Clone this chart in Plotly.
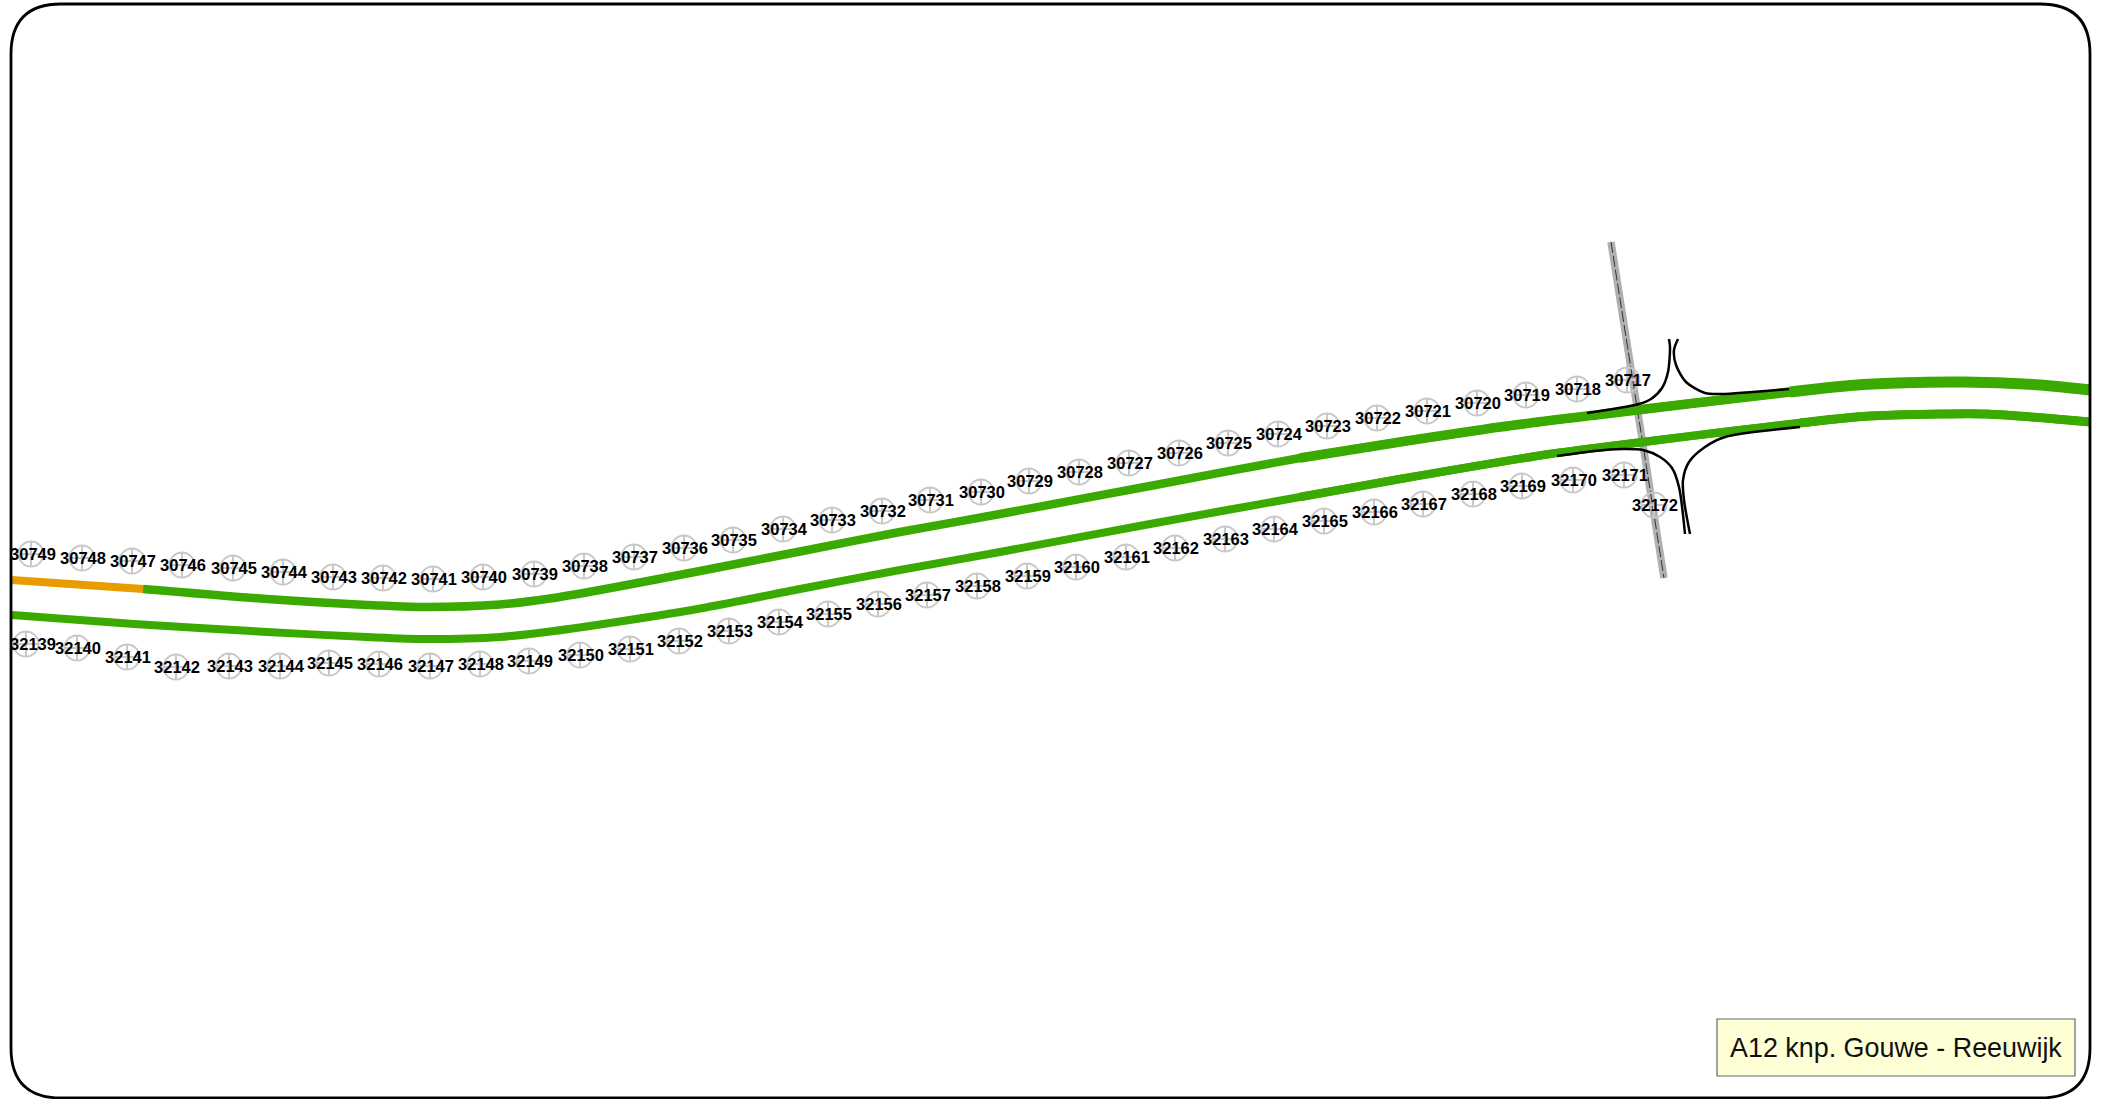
import plotly.graph_objects as go

W, H = 2101, 1099

top_ids = list(range(30749, 30716, -1))
top_x = [31, 82, 132, 182, 233, 283, 333, 383, 433, 483, 534, 584, 634, 684, 733, 783, 832, 882, 930, 981,
         1029, 1079, 1129, 1179, 1228, 1278, 1327, 1377, 1427, 1477, 1526, 1577, 1627]
top_y = [554, 558, 561, 565, 568, 572, 577, 578, 579, 577, 574, 566, 557, 548, 540, 529, 520, 511, 500, 492,
         481, 472, 463, 453, 443, 434, 426, 418, 411, 403, 395, 389, 380]
bot_ids = list(range(32139, 32173))
bot_x = [26, 77, 127, 176, 229, 280, 329, 379, 430, 480, 529, 580, 630, 679, 729, 779, 828, 878, 927, 977,
         1027, 1076, 1126, 1175, 1225, 1274, 1324, 1374, 1423, 1473, 1522, 1573, 1624, 1654]
bot_y = [644, 648, 657, 667, 666, 666, 663, 664, 666, 664, 661, 655, 649, 641, 631, 622, 614, 604, 595, 586,
         576, 567, 557, 548, 539, 529, 521, 512, 504, 494, 486, 480, 475, 505]

# Carriageways
orange_x = [12, 143]
orange_y = [580, 589]
lane_top_x = [143, 267, 367, 425, 500, 550, 600, 700, 800, 900, 1000, 1150, 1300, 1400, 1500, 1600,
              1790, 1863, 1963, 2040, 2090]
lane_top_y = [589, 599, 605, 607, 604.5, 598.5, 590, 571, 551.5, 532, 514, 486, 458, 442, 427, 414.5,
              392, 384.5, 382, 385, 390]
lane_bot_x = [12, 134, 267, 367, 425, 500, 550, 600, 700, 800, 900, 1000, 1150, 1300, 1400, 1550,
              1643, 1732, 1800, 1863, 1940, 1987, 2090]
lane_bot_y = [615, 624, 632, 637, 639, 637, 631.5, 624.5, 608.5, 589, 570, 552, 524, 497, 479, 454,
              442, 431, 423, 416.5, 414, 414, 422]

road_x = [1611, 1664]
road_y = [242, 578]

ramp_ul_x = [1587, 1639, 1651, 1662, 1668, 1670, 1669]
ramp_ul_y = [413, 404, 399, 388, 372, 347, 339]
ramp_ur_x = [1678, 1674, 1676, 1686, 1705, 1722, 1789]
ramp_ur_y = [339, 350, 365, 382, 393, 394, 389]
ramp_ll_x = [1557, 1594, 1622, 1643, 1660, 1672, 1679, 1685]
ramp_ll_y = [456, 451, 449, 450, 457, 468, 487, 534]
ramp_lr_x = [1690, 1684, 1683, 1689, 1705, 1725, 1800]
ramp_lr_y = [534, 500, 480, 462, 447, 437, 427]

TITLE = "A12 knp. Gouwe - Reeuwijk"
GREEN = "#3AAA00"
ORANGE = "#E89C00"

fig = go.Figure()


def line(x, y, color, width, dash=None, smooth=True):
    fig.add_trace(go.Scatter(
        x=x, y=y, mode="lines", hoverinfo="skip", showlegend=False, cliponaxis=False,
        line=dict(color=color, width=width, dash=dash, shape="spline" if smooth else "linear", smoothing=0.8),
    ))


def from_x(xs, ys, start):
    i = xs.index(start)
    return xs[i:], ys[i:]


line(road_x, road_y, "#B0B0B0", 7.5, smooth=False)
line(road_x, road_y, "#333333", 1, dash="11px,3px", smooth=False)

line(orange_x, orange_y, ORANGE, 8, smooth=False)
line(lane_top_x, lane_top_y, GREEN, 8.5)
line(*from_x(lane_top_x, lane_top_y, 1300), GREEN, 9.5)
line(*from_x(lane_top_x, lane_top_y, 1790), GREEN, 11)
line(lane_bot_x, lane_bot_y, GREEN, 8)
line(*from_x(lane_bot_x, lane_bot_y, 1300), GREEN, 8.5)
line(*from_x(lane_bot_x, lane_bot_y, 1800), GREEN, 9)

for rx, ry in [(ramp_ul_x, ramp_ul_y), (ramp_ur_x, ramp_ur_y), (ramp_ll_x, ramp_ll_y), (ramp_lr_x, ramp_lr_y)]:
    line(rx, ry, "#000000", 2.5)

for xs, ys, ids in [(top_x, top_y, top_ids), (bot_x, bot_y, bot_ids)]:
    fig.add_trace(go.Scatter(
        x=xs, y=ys, mode="markers", hoverinfo="skip", showlegend=False, cliponaxis=False,
        marker=dict(symbol="circle-cross-open", size=25, color="#C8C8C8", line=dict(color="#C8C8C8", width=2)),
    ))
    # the first labels are pushed right so they stay inside the frame
    lx = [max(x + 1, 33) for x in xs]
    ly = [y + 2 for y in ys]
    fig.add_trace(go.Scatter(
        x=lx, y=ly, mode="text", text=[str(i) for i in ids], textposition="middle center",
        hoverinfo="skip", showlegend=False, cliponaxis=False,
        textfont=dict(family="Liberation Sans", size=16.5, color="#000000", weight="bold"),
    ))

r = 50
l, t, rt, b = 11, 4, 2090, 1098
frame = (f"M {l+r} {t} L {rt-r} {t} Q {rt} {t} {rt} {t+r} L {rt} {b-r} Q {rt} {b} {rt-r} {b} "
         f"L {l+r} {b} Q {l} {b} {l} {b-r} L {l} {t+r} Q {l} {t} {l+r} {t} Z")

fig.update_layout(
    width=W, height=H, margin=dict(l=0, r=0, t=0, b=0),
    paper_bgcolor="white", plot_bgcolor="white", showlegend=False,
    xaxis=dict(range=[0, W], visible=False, fixedrange=True),
    yaxis=dict(range=[H, 0], visible=False, fixedrange=True),
    shapes=[
        dict(type="path", path=frame, line=dict(color="#000000", width=2.8), layer="above"),
        dict(type="rect", x0=1717, x1=2075, y0=1019, y1=1076, fillcolor="#FFFFD6",
             line=dict(color="#666666", width=1.2), layer="above"),
    ],
    annotations=[
        dict(x=1896, y=1048, text=TITLE, showarrow=False, xanchor="center", yanchor="middle",
             font=dict(family="Liberation Sans", size=26.9, color="#111111")),
    ],
)

fig.write_html("out.html", post_script="document.body.style.margin='0';document.documentElement.style.overflow='hidden';",
               config={"displayModeBar": False})
